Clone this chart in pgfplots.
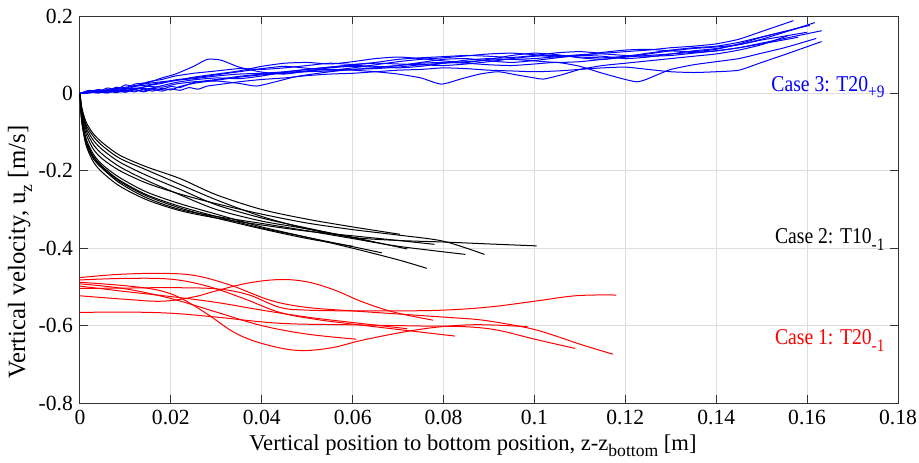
\documentclass[border=0pt]{standalone}
\usepackage{pgfplots}
\pgfplotsset{compat=1.18}
\usepackage{fontspec}
\setmainfont{Liberation Serif}
\newfontfamily\condfont{Liberation Serif}[FakeStretch=0.87]

\newcommand{\sub}[1]{\raisebox{-0.6ex}{\fontsize{8.8}{9}\selectfont #1}}

\pgfplotsset{
  bl/.style={color=blue, line width=0.5pt, smooth, tension=0.35, mark=none},
  bk/.style={color=black, line width=0.5pt, smooth, tension=0.5, mark=none},
  rd/.style={color=red, line width=0.5pt, smooth, tension=0.6, mark=none},
}
\tikzset{case/.style={anchor=base east, inner sep=0pt, font=\condfont\fontsize{11.3}{13}\selectfont}}

\begin{document}
\begin{tikzpicture}
\useasboundingbox (-40pt,-29.5pt) rectangle (419.5pt,201.5pt);
\begin{axis}[
    scale only axis,
    width=409pt, height=193.5pt,
    xmin=0, xmax=0.18, ymin=-0.8, ymax=0.2,
    xtick={0,0.02,0.04,0.06,0.08,0.1,0.12,0.14,0.16,0.18},
    ytick={-0.8,-0.6,-0.4,-0.2,0,0.2},
    /pgf/number format/fixed,
    /pgf/number format/precision=2,
    /pgf/number format/assume math mode=true,
    tick align=inside,
    major tick length=4pt,
    grid=major,
    grid style={black!13, line width=0.5pt},
    axis line style={black!80, line width=0.5pt},
    tick style={black!80, line width=0.5pt},
    ticklabel style={font=\fontsize{10.8}{12}\selectfont},
    label style={font=\fontsize{11.3}{13}\selectfont},
    xlabel={Vertical position to bottom position, z-z\sub{bottom} [m]},
    ylabel={Vertical velocity, u\sub{z} [m/s]},
    xlabel style={yshift=2pt, xshift=-8pt},
    ylabel style={at={(axis description cs:-0.0733,0.39)}, anchor=center, font=\fontsize{12.4}{14}\selectfont},
    clip=false,
]

% Case 1 (red)
\addplot[rd] coordinates {(0,-0.476)(0.008,-0.468)(0.017,-0.465)(0.025,-0.470)(0.033,-0.495)(0.042,-0.535)(0.05,-0.553)(0.06,-0.562)(0.07,-0.570)(0.08,-0.578)(0.088,-0.585)(0.095,-0.598)(0.1,-0.610)(0.105,-0.628)(0.11,-0.648)(0.1173,-0.674)};
\addplot[rd] coordinates {(0,-0.523)(0.01,-0.532)(0.018,-0.537)(0.025,-0.526)(0.03,-0.510)(0.037,-0.490)(0.044,-0.481)(0.05,-0.487)(0.056,-0.508)(0.062,-0.538)(0.069,-0.565)(0.0777,-0.586)};
\addplot[rd] coordinates {(0,-0.488)(0.01,-0.497)(0.017,-0.508)(0.022,-0.528)(0.028,-0.570)(0.034,-0.618)(0.04,-0.646)(0.0477,-0.664)(0.055,-0.658)(0.062,-0.638)(0.071,-0.617)(0.0785,-0.604)(0.0858,-0.598)(0.092,-0.599)(0.0985,-0.603)};
\addplot[rd] coordinates {(0,-0.482)(0.01,-0.478)(0.02,-0.480)(0.028,-0.498)(0.036,-0.530)(0.044,-0.566)(0.052,-0.584)(0.06,-0.596)(0.07,-0.610)(0.0825,-0.627)};
\addplot[rd] coordinates {(0,-0.504)(0.01,-0.503)(0.02,-0.502)(0.03,-0.505)(0.037,-0.520)(0.044,-0.553)(0.05,-0.560)(0.06,-0.562)(0.07,-0.562)(0.08,-0.560)(0.09,-0.552)(0.1,-0.537)(0.108,-0.524)(0.113,-0.521)(0.118,-0.521)};
\addplot[rd] coordinates {(0,-0.566)(0.01,-0.565)(0.02,-0.568)(0.03,-0.578)(0.044,-0.594)(0.06,-0.598)(0.075,-0.601)(0.085,-0.603)(0.092,-0.612)(0.1,-0.635)(0.109,-0.659)};
\addplot[rd] coordinates {(0,-0.492)(0.01,-0.505)(0.02,-0.530)(0.03,-0.565)(0.04,-0.600)(0.05,-0.622)(0.0608,-0.635)};
\addplot[rd] coordinates {(0,-0.498)(0.01,-0.512)(0.02,-0.525)(0.03,-0.540)(0.04,-0.560)(0.05,-0.578)(0.06,-0.592)(0.072,-0.608)};

% Case 2 (black)
\addplot[bk] coordinates {(0,0)(0.0003,-0.030)(0.0008,-0.055)(0.0015,-0.078)(0.003,-0.105)(0.005,-0.128)(0.0088,-0.160)(0.0147,-0.190)(0.022,-0.220)(0.03,-0.262)(0.04,-0.300)(0.05,-0.325)(0.06,-0.345)(0.0704,-0.364)};
\addplot[bk] coordinates {(0,0)(0.0003,-0.035)(0.0008,-0.060)(0.0015,-0.085)(0.003,-0.112)(0.005,-0.136)(0.0088,-0.168)(0.0147,-0.198)(0.022,-0.235)(0.03,-0.275)(0.04,-0.318)(0.05,-0.350)(0.06,-0.372)(0.07,-0.380)(0.08,-0.384)(0.09,-0.389)(0.1005,-0.394)};
\addplot[bk] coordinates {(0,0)(0.0003,-0.045)(0.0008,-0.080)(0.0015,-0.110)(0.003,-0.145)(0.005,-0.170)(0.0088,-0.200)(0.0147,-0.232)(0.022,-0.260)(0.03,-0.285)(0.04,-0.312)(0.05,-0.335)(0.06,-0.352)(0.07,-0.366)(0.08,-0.382)(0.089,-0.416)};
\addplot[bk] coordinates {(0,0)(0.0003,-0.060)(0.0008,-0.100)(0.0015,-0.135)(0.003,-0.170)(0.005,-0.195)(0.0088,-0.232)(0.0147,-0.270)(0.022,-0.300)(0.03,-0.318)(0.04,-0.336)(0.05,-0.355)(0.06,-0.375)(0.07,-0.395)(0.0848,-0.416)};
\addplot[bk] coordinates {(0,0)(0.0003,-0.050)(0.0008,-0.090)(0.0015,-0.122)(0.003,-0.158)(0.005,-0.185)(0.0088,-0.218)(0.0147,-0.255)(0.022,-0.285)(0.03,-0.312)(0.04,-0.345)(0.05,-0.372)(0.06,-0.400)(0.07,-0.430)(0.0763,-0.452)};
\addplot[bk] coordinates {(0,0)(0.0003,-0.055)(0.0008,-0.095)(0.0015,-0.128)(0.003,-0.163)(0.005,-0.190)(0.0088,-0.225)(0.0147,-0.262)(0.022,-0.292)(0.03,-0.318)(0.04,-0.348)(0.05,-0.372)(0.06,-0.396)(0.0664,-0.412)};
\addplot[bk] coordinates {(0,0)(0.0003,-0.040)(0.0008,-0.072)(0.0015,-0.100)(0.003,-0.133)(0.005,-0.158)(0.0088,-0.190)(0.0147,-0.225)(0.022,-0.262)(0.03,-0.300)(0.04,-0.330)(0.05,-0.350)(0.06,-0.372)(0.072,-0.402)};
\addplot[bk] coordinates {(0,0)(0.0003,-0.065)(0.0008,-0.105)(0.0015,-0.140)(0.003,-0.178)(0.005,-0.205)(0.0088,-0.240)(0.0147,-0.275)(0.022,-0.303)(0.03,-0.322)(0.04,-0.340)(0.05,-0.356)(0.06,-0.368)(0.07,-0.380)(0.078,-0.390)};
\addplot[bk] coordinates {(0,0)(0.0003,-0.035)(0.0008,-0.065)(0.0015,-0.092)(0.003,-0.122)(0.005,-0.146)(0.0088,-0.178)(0.0147,-0.212)(0.022,-0.248)(0.03,-0.288)(0.04,-0.322)(0.05,-0.348)(0.065,-0.385)};
\addplot[bk] coordinates {(0,0)(0.0003,-0.058)(0.0008,-0.098)(0.0015,-0.130)(0.003,-0.166)(0.005,-0.193)(0.0088,-0.228)(0.0147,-0.265)(0.022,-0.296)(0.03,-0.322)(0.04,-0.350)(0.05,-0.375)(0.06,-0.395)};

% Case 3 (blue)
\addplot[bl] coordinates {(0,0)(0.002,0.008)(0.004,0.004)(0.006,0.014)(0.008,0.010)(0.010,0.022)(0.012,0.018)(0.015,0.030)(0.018,0.036)(0.021,0.045)(0.025,0.052)(0.03,0.058)(0.035,0.064)(0.04,0.062)(0.045,0.066)(0.05,0.072)(0.055,0.078)(0.06,0.075)(0.065,0.080)(0.07,0.088)(0.075,0.092)(0.08,0.095)(0.085,0.098)(0.09,0.096)(0.095,0.093)(0.1,0.098)(0.105,0.105)(0.11,0.108)(0.115,0.104)(0.12,0.108)(0.125,0.112)(0.13,0.118)(0.135,0.122)(0.14,0.128)(0.145,0.140)(0.15,0.160)(0.157,0.188)};
\addplot[bl] coordinates {(0,0)(0.002,0.003)(0.004,0.010)(0.006,0.006)(0.008,0.016)(0.010,0.012)(0.012,0.024)(0.015,0.028)(0.018,0.040)(0.021,0.050)(0.025,0.070)(0.028,0.088)(0.031,0.086)(0.035,0.068)(0.04,0.055)(0.045,0.050)(0.05,0.058)(0.055,0.066)(0.06,0.070)(0.065,0.068)(0.07,0.072)(0.075,0.080)(0.08,0.088)(0.085,0.090)(0.09,0.084)(0.095,0.080)(0.1,0.085)(0.105,0.092)(0.11,0.098)(0.115,0.096)(0.12,0.090)(0.125,0.094)(0.13,0.102)(0.135,0.110)(0.14,0.116)(0.145,0.126)(0.15,0.140)(0.155,0.158)(0.1617,0.183)};
\addplot[bl] coordinates {(0,0)(0.002,0.005)(0.004,0.002)(0.006,0.008)(0.008,0.004)(0.010,0.012)(0.012,0.010)(0.015,0.020)(0.018,0.026)(0.021,0.035)(0.025,0.040)(0.03,0.048)(0.035,0.056)(0.04,0.064)(0.045,0.070)(0.05,0.065)(0.055,0.060)(0.06,0.066)(0.065,0.074)(0.07,0.082)(0.075,0.088)(0.08,0.092)(0.085,0.097)(0.09,0.102)(0.095,0.104)(0.1,0.100)(0.105,0.094)(0.11,0.098)(0.115,0.106)(0.12,0.112)(0.125,0.114)(0.13,0.110)(0.135,0.108)(0.14,0.114)(0.145,0.128)(0.15,0.145)(0.155,0.160)(0.1606,0.176)};
\addplot[bl] coordinates {(0,0)(0.002,0.002)(0.004,0.006)(0.006,0.003)(0.008,0.010)(0.010,0.006)(0.012,0.014)(0.015,0.012)(0.018,0.020)(0.021,0.028)(0.025,0.035)(0.03,0.040)(0.035,0.038)(0.04,0.045)(0.045,0.055)(0.05,0.062)(0.055,0.068)(0.06,0.072)(0.065,0.070)(0.07,0.066)(0.075,0.070)(0.08,0.078)(0.085,0.086)(0.09,0.090)(0.095,0.088)(0.1,0.090)(0.105,0.095)(0.11,0.100)(0.115,0.102)(0.12,0.098)(0.125,0.096)(0.13,0.098)(0.135,0.104)(0.14,0.110)(0.145,0.118)(0.15,0.130)(0.155,0.142)(0.1632,0.162)};
\addplot[bl] coordinates {(0,0)(0.002,0.004)(0.004,0.001)(0.006,0.006)(0.008,0.002)(0.010,0.008)(0.012,0.004)(0.014,0.011)(0.016,0.006)(0.018,0.013)(0.020,0.009)(0.022,0.018)(0.025,0.026)(0.03,0.034)(0.035,0.042)(0.04,0.048)(0.045,0.052)(0.05,0.056)(0.055,0.058)(0.06,0.062)(0.065,0.066)(0.07,0.072)(0.075,0.078)(0.08,0.080)(0.085,0.078)(0.09,0.074)(0.095,0.072)(0.1,0.076)(0.105,0.080)(0.11,0.070)(0.115,0.052)(0.1225,0.030)(0.127,0.048)(0.13,0.062)(0.135,0.074)(0.14,0.082)(0.145,0.090)(0.15,0.104)(0.155,0.118)(0.162,0.142)};
\addplot[bl] coordinates {(0,0)(0.002,0.001)(0.004,0.005)(0.006,0.002)(0.008,0.006)(0.010,0.003)(0.012,0.009)(0.014,0.004)(0.016,0.010)(0.018,0.006)(0.020,0.012)(0.022,0.008)(0.024,0.015)(0.026,0.011)(0.028,0.019)(0.03,0.022)(0.035,0.030)(0.04,0.036)(0.045,0.040)(0.05,0.046)(0.055,0.050)(0.06,0.052)(0.065,0.056)(0.07,0.060)(0.075,0.062)(0.08,0.066)(0.085,0.064)(0.09,0.060)(0.095,0.058)(0.1,0.056)(0.105,0.058)(0.11,0.062)(0.115,0.066)(0.12,0.068)(0.125,0.062)(0.13,0.056)(0.135,0.054)(0.14,0.056)(0.145,0.060)(0.15,0.080)(0.155,0.100)(0.1632,0.134)};
\addplot[bl] coordinates {(0,0)(0.002,0.006)(0.004,0.003)(0.006,0.010)(0.008,0.006)(0.010,0.014)(0.012,0.012)(0.015,0.018)(0.018,0.016)(0.021,0.024)(0.025,0.030)(0.03,0.032)(0.035,0.026)(0.0388,0.019)(0.043,0.030)(0.047,0.042)(0.05,0.048)(0.055,0.056)(0.06,0.062)(0.065,0.064)(0.07,0.068)(0.075,0.074)(0.08,0.078)(0.085,0.082)(0.09,0.086)(0.095,0.088)(0.1,0.084)(0.105,0.080)(0.11,0.082)(0.115,0.088)(0.12,0.094)(0.125,0.098)(0.13,0.102)(0.135,0.106)(0.14,0.110)(0.145,0.118)(0.15,0.128)(0.158,0.145)};
\addplot[bl] coordinates {(0,0)(0.002,0.003)(0.004,0.007)(0.006,0.004)(0.008,0.012)(0.010,0.016)(0.012,0.020)(0.015,0.026)(0.018,0.030)(0.021,0.034)(0.025,0.038)(0.03,0.045)(0.035,0.050)(0.04,0.052)(0.045,0.056)(0.05,0.062)(0.055,0.068)(0.06,0.074)(0.065,0.078)(0.07,0.076)(0.075,0.074)(0.08,0.072)(0.085,0.076)(0.09,0.082)(0.095,0.090)(0.1,0.096)(0.105,0.098)(0.11,0.094)(0.115,0.092)(0.12,0.096)(0.125,0.104)(0.13,0.112)(0.135,0.118)(0.14,0.122)(0.145,0.132)(0.15,0.146)(0.158,0.168)};
\addplot[bl] coordinates {(0,0)(0.002,0.002)(0.004,0.004)(0.006,0.001)(0.008,0.008)(0.010,0.004)(0.012,0.010)(0.014,0.006)(0.016,0.013)(0.018,0.010)(0.020,0.018)(0.022,0.015)(0.025,0.028)(0.03,0.036)(0.035,0.044)(0.04,0.050)(0.045,0.054)(0.05,0.058)(0.055,0.062)(0.06,0.060)(0.065,0.056)(0.07,0.050)(0.075,0.040)(0.0795,0.024)(0.084,0.038)(0.088,0.050)(0.092,0.056)(0.096,0.048)(0.1,0.040)(0.102,0.037)(0.106,0.048)(0.11,0.062)(0.115,0.072)(0.12,0.078)(0.125,0.084)(0.13,0.090)(0.135,0.096)(0.14,0.102)(0.145,0.112)(0.15,0.126)(0.156,0.150)};
\addplot[bl] coordinates {(0,0)(0.002,0.005)(0.004,0.009)(0.006,0.006)(0.008,0.013)(0.010,0.010)(0.012,0.018)(0.015,0.022)(0.018,0.028)(0.021,0.033)(0.025,0.042)(0.03,0.050)(0.035,0.058)(0.04,0.070)(0.045,0.078)(0.05,0.080)(0.055,0.076)(0.06,0.082)(0.065,0.090)(0.07,0.094)(0.075,0.090)(0.08,0.084)(0.085,0.080)(0.09,0.088)(0.095,0.098)(0.1,0.104)(0.105,0.100)(0.11,0.092)(0.115,0.088)(0.12,0.094)(0.125,0.102)(0.13,0.110)(0.135,0.116)(0.14,0.120)(0.145,0.126)(0.15,0.138)(0.155,0.148)(0.16,0.158)};

\node[case, text=blue] at (axis cs:0.1771,0.006) {Case 3: T20\sub{+9}};
\node[case, text=black] at (axis cs:0.1771,-0.389) {Case 2: T10\sub{-1}};
\node[case, text=red] at (axis cs:0.1771,-0.650) {Case 1: T20\sub{-1}};
\end{axis}
\end{tikzpicture}
\end{document}
